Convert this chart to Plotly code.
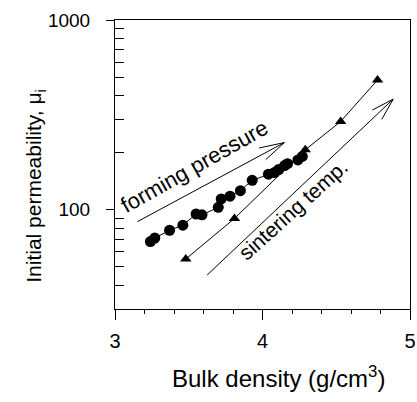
import numpy as np
import plotly.graph_objects as go

# Forming-pressure series (circles)
fp_density = [3.24, 3.27, 3.37, 3.46, 3.55, 3.59, 3.70, 3.72, 3.78, 3.85, 3.93,
              4.04, 4.08, 4.11, 4.15, 4.17, 4.24, 4.27]
fp_mu = [68, 71, 78, 83, 95, 94, 103, 114, 118, 126, 143,
         154, 157, 163, 171, 175, 183, 191]

# Sintering-temperature series (triangles)
st_density = [3.48, 3.81, 4.29, 4.53, 4.78]
st_mu = [55, 90, 207, 292, 483]

x_ticks = [3, 4, 5]
y_ticks = [100, 1000]
y_minor = [30, 40, 50, 60, 70, 80, 90, 200, 300, 400, 500, 600, 700, 800, 900]

FONT = "Liberation Sans, Arial, Helvetica, sans-serif"

fig = go.Figure()
fig.add_trace(go.Scatter(
    x=fp_density, y=fp_mu, mode="lines+markers",
    line=dict(color="black", width=1),
    marker=dict(symbol="circle", size=11, color="black"),
    showlegend=False))
fig.add_trace(go.Scatter(
    x=st_density, y=st_mu, mode="lines+markers",
    line=dict(color="black", width=1),
    marker=dict(symbol="triangle-up", size=10, color="black"),
    showlegend=False))

annots = []
# Rotated labels
annots.append(dict(x=3.537, y=2.226, xref="x", yref="y", text="forming pressure",
                   textangle=-29.5, showarrow=False,
                   font=dict(family=FONT, size=22, color="black")))
annots.append(dict(x=4.208, y=2.002, xref="x", yref="y", text="sintering temp.",
                   textangle=-42, showarrow=False,
                   font=dict(family=FONT, size=21, color="black")))

# Arrow shafts (head at x,y; tail at ax,ay)
arrows = [
    dict(head=(4.148, 2.354), tail=(3.141, 1.933),
         barbs=[(-26.7, 5.7), (-20, 18.3)]),
    dict(head=(4.886, 2.583), tail=(3.615, 1.649),
         barbs=[(-22.3, 11.7), (-12.3, 21.7)]),
]
for a in arrows:
    annots.append(dict(x=a["head"][0], y=a["head"][1], xref="x", yref="y",
                       ax=a["tail"][0], ay=a["tail"][1], axref="x", ayref="y",
                       showarrow=True, arrowhead=0, arrowwidth=1,
                       arrowcolor="black", text=""))
    for bx, by in a["barbs"]:
        annots.append(dict(x=a["head"][0], y=a["head"][1], xref="x", yref="y",
                           ax=bx, ay=by, showarrow=True, arrowhead=0,
                           arrowwidth=1, arrowcolor="black", text="",
                           standoff=0, startstandoff=0))

# Axis titles as annotations (placed like the reference)
annots.append(dict(x=0.555, y=-0.295, xref="paper", yref="paper",
                   text="Bulk density (g/cm<sup>3</sup>)", showarrow=False,
                   font=dict(family=FONT, size=24, color="black")))
annots.append(dict(x=-0.32, y=0.425, xref="paper", yref="paper",
                   text="Initial permeability, μ<sub>i</sub>", showarrow=False,
                   textangle=-90,
                   font=dict(family=FONT, size=21, color="black")))

fig.update_layout(
    width=417, height=402,
    margin=dict(l=115, r=7, t=20, b=93, autoexpand=False),
    paper_bgcolor="white", plot_bgcolor="white",
    font=dict(family=FONT, size=19, color="black"),
    annotations=annots,
)
fig.update_xaxes(
    range=[3, 5], tickvals=x_ticks, ticktext=[str(v) for v in x_ticks],
    showline=True, linecolor="black", linewidth=1, mirror=True,
    showgrid=False, zeroline=False, ticklabeloverflow="allow", automargin=False,
    ticks="outside", ticklen=10, tickcolor="black", ticklabelstandoff=4,
    tickfont=dict(size=20),
    minor=dict(dtick=0.2, ticks="outside", ticklen=4, tickcolor="black", showgrid=False),
)
fig.update_yaxes(
    type="log", range=[np.log10(30), 3], tickvals=y_ticks,
    ticktext=[str(v) for v in y_ticks], automargin=False,
    showline=True, linecolor="black", linewidth=1, mirror=True,
    showgrid=False, zeroline=False,
    ticks="outside", ticklen=8, tickcolor="black", ticklabelstandoff=12,
    tickfont=dict(size=19),
    minor=dict(tickmode="array", tickvals=y_minor, ticks="inside", ticklen=9,
               tickcolor="black", showgrid=False),
)

fig.write_html("out.html")
